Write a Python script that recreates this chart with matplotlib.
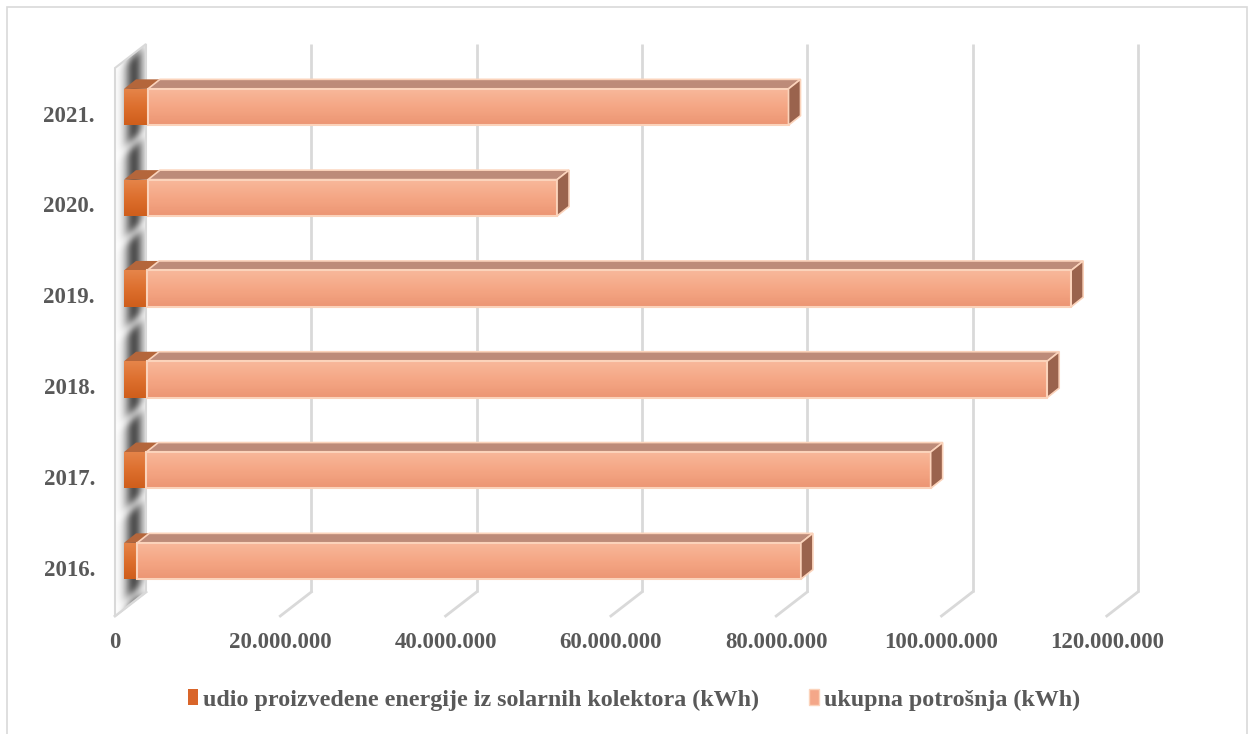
import numpy as np
import matplotlib
matplotlib.use("Agg")
import matplotlib.pyplot as plt
import matplotlib.transforms as mtransforms
from matplotlib.patches import Polygon, Rectangle, Patch
from matplotlib.colors import LinearSegmentedColormap

# ---------------- data ----------------
years = ["2016.", "2017.", "2018.", "2019.", "2020.", "2021."]
udio = [1.6e6, 2.7e6, 2.8e6, 2.8e6, 2.9e6, 2.9e6]          # udio proizvedene energije iz solarnih kolektora (kWh)
ukupna = [80.3e6, 94.9e6, 108.9e6, 111.8e6, 49.5e6, 77.5e6]  # ukupna potrošnja (kWh)
xticks = [0, 20e6, 40e6, 60e6, 80e6, 100e6, 120e6]
series_labels = ["udio proizvedene energije iz solarnih kolektora (kWh)", "ukupna potrošnja (kWh)"]

W, H = 1248, 734
fig = plt.figure(figsize=(W / 100, H / 100), dpi=100)
fig.patch.set_facecolor("white")

# axes placement (pixels)
ppx = 8.265e-6        # pixels per unit
x0px = 124.0          # front-face zero
spacing = 90.8
y0px = 561.0          # centre of first category (front face)
xl = (-2e6, 130e6)
yl = (-0.75, 5.75)
left = x0px + xl[0] * ppx
right = x0px + xl[1] * ppx
top = y0px - (yl[1]) * spacing
bottom = y0px - (yl[0]) * spacing
ax = fig.add_axes([left / W, (H - bottom) / H, (right - left) / W, (bottom - top) / H])
ax.set_xlim(*xl)
ax.set_ylim(*yl)
ax.axis("off")

def off(dx, dy):
    """offset transform in image pixels (dy positive = down)"""
    return ax.transData + mtransforms.ScaledTranslation(dx / 100, -dy / 100, fig.dpi_scale_trans)

def px2data(px, py):
    return ax.transData.inverted().transform((px, H - py))

# depth in data units
DX = 12 / ppx
DY = 9.5 / spacing

# ------------- back gridlines & floor -------------
grid_c = "#d9d9d9"
yb = (y0px - 592) / spacing
yt = (y0px - 44) / spacing
for v in xticks[1:]:
    ax.plot([v, v], [yb, yt], color=grid_c, lw=2, transform=off(22, 0), zorder=1, solid_capstyle="butt")
for v in xticks:
    xa, ya = v + 22 / ppx, yb
    xb, yb2 = v - 9 / ppx, yb - 24 / spacing
    ax.plot([xa, xb], [ya, yb2], color=grid_c, lw=2, zorder=1)

# ------------- left wall -------------
wall_px = [(115, 68), (146, 44), (146, 592), (115, 616)]
wall_data = [px2data(*p) for p in wall_px]
wall_poly = Polygon(wall_data, closed=True, facecolor="none", edgecolor=grid_c, lw=1.5, zorder=2)
ax.add_patch(wall_poly)
nx, ny = 60, 600
xs = np.linspace(113, 148, nx)
ysp = np.linspace(42, 618, ny)
XX, YY = np.meshgrid(xs, ysp)
u = (XX - 115) / 31.0
hprof = np.exp(-((u - 0.6) / 0.3) ** 2)
ys_front = YY + (XX - 115) * 24 / 31.0
centers = [y0px - spacing * k for k in range(len(years))]
gaps = [c + spacing / 2 + 4 for c in centers] + [centers[-1] - spacing / 2 + 4]
g = np.ones_like(XX)
for gp in gaps:
    g *= 1 - 0.55 * np.exp(-((ys_front - gp) / 7.0) ** 2)
shade = 1 - 0.68 * hprof * g
img = np.dstack([shade, shade, shade])
bl = px2data(113, 618)
tr = px2data(148, 42)
im = ax.imshow(img, extent=(bl[0], tr[0], bl[1], tr[1]), origin="upper", aspect="auto", zorder=1.5,
               interpolation="bilinear")
clip_poly = Polygon(wall_data, closed=True, transform=ax.transData, facecolor="none", edgecolor="none")
ax.add_patch(clip_poly)
im.set_clip_path(clip_poly)

# ------------- bars -------------
bh = 0.4
ypos = np.arange(len(years))
cm_orange = LinearSegmentedColormap.from_list("o", ["#e6854a", "#dd6f2e", "#cf5e1b"])
cm_salmon = LinearSegmentedColormap.from_list("s", ["#f8b89b", "#f5a785", "#ec9573"])
grad = np.linspace(0, 1, 64).reshape(-1, 1)

b1 = ax.barh(ypos, udio, height=bh, left=0, color="#dd6f2e", edgecolor="none", zorder=4)
b2 = ax.barh(ypos, ukupna, height=bh, left=udio, color="#f5a785", edgecolor="#fbd3bb", lw=1.5, zorder=5)

for bars, cm, topc, edge in [(b1, cm_orange, "#b4663b", "none"), (b2, cm_salmon, "#bd8b79", "#fbd3bb")]:
    for r in bars:
        x, y, w, h = r.get_x(), r.get_y(), r.get_width(), r.get_height()
        gi = ax.imshow(grad, extent=(x, x + w, y, y + h), origin="upper", cmap=cm, aspect="auto",
                       zorder=r.get_zorder() - 0.01, interpolation="bilinear")
        gi.set_clip_path(r)
        r.set_facecolor("none")
        # top face
        tp = Polygon([(x, y + h), (x + w, y + h), (x + w + DX, y + h + DY), (x + DX, y + h + DY)],
                     closed=True, facecolor=topc, edgecolor=edge, lw=1.2, zorder=r.get_zorder() - 0.5)
        ax.add_patch(tp)

# side faces at the right end
for r in b2:
    x, y, w, h = r.get_x(), r.get_y(), r.get_width(), r.get_height()
    sp = Polygon([(x + w, y), (x + w, y + h), (x + w + DX, y + h + DY), (x + w + DX, y + DY)],
                 closed=True, facecolor="#9a634d", edgecolor="#fbd3bb", lw=1.2, zorder=5.5)
    ax.add_patch(sp)

# ------------- labels -------------
txt_c = "#595959"
font = dict(family="Liberation Serif", weight="bold", color=txt_c)
for k, lab in enumerate(years):
    ax.text(0, ypos[k], lab, transform=off(-29, 9), ha="right", va="center", fontsize=16.5, **font)

def fmt(v):
    s = f"{int(round(v)):,}".replace(",", ".")
    return s
for v in xticks:
    ax.text(v, yb, fmt(v), transform=off(-9, 51), ha="center", va="center", fontsize=16.5, **font)

# ------------- legend -------------
handles = [Patch(facecolor="#d9652a", edgecolor="none"), Patch(facecolor="#f4a789", edgecolor="#fbd3bb")]
leg = fig.legend(handles, series_labels, loc="center", bbox_to_anchor=(634 / W, 1 - 700 / H), ncol=2,
                 frameon=False, handlelength=0.42, handleheight=0.65, handletextpad=0.2, columnspacing=2.1,
                 prop=dict(family="Liberation Serif", weight="bold", size=17.3))
for t in leg.get_texts():
    t.set_color(txt_c)

# ------------- outer border -------------
fig.add_artist(Rectangle((7 / W, -0.02), (1247 - 7) / W, 1.02 - 7 / H, transform=fig.transFigure,
                         facecolor="none", edgecolor="#d9d9d9", lw=1.2))

fig.savefig("out.png", dpi=100)
